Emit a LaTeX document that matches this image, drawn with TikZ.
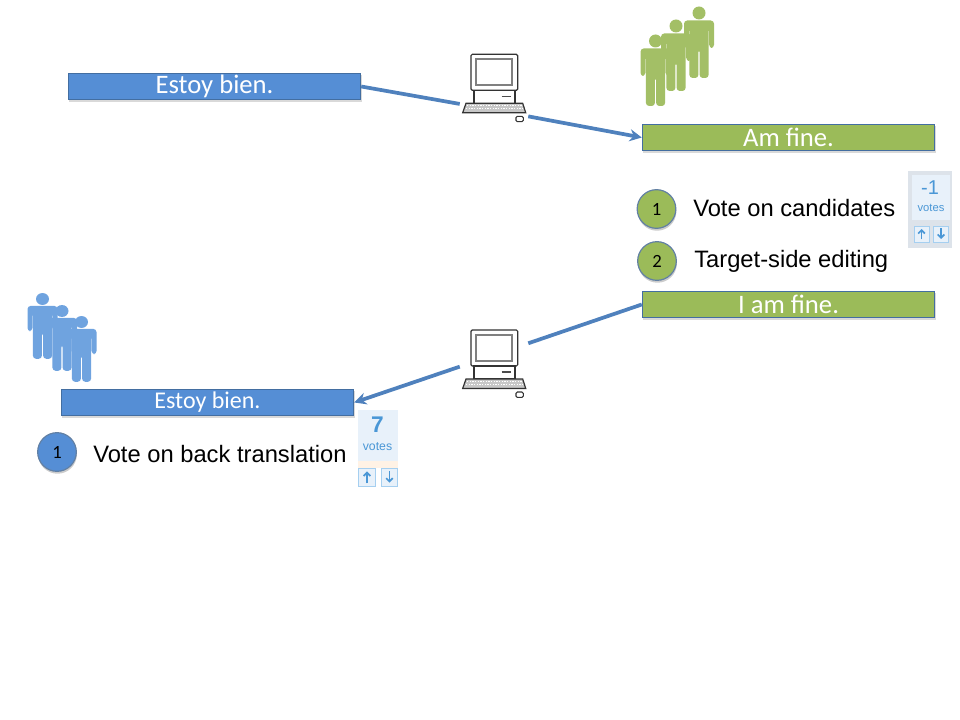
\documentclass[tikz,border=0pt]{standalone}
\usepackage{fontspec}
\setmainfont{Liberation Sans}
\newfontfamily\boxfont{Carlito}
\usetikzlibrary{shadows,arrows.meta}
\definecolor{barblue}{HTML}{558ED5}
\definecolor{bargreen}{HTML}{9BBB59}
\definecolor{edgeblue}{HTML}{4F81BD}
\definecolor{peopleblue}{HTML}{6FA3DF}
\definecolor{peoplegreen}{HTML}{A3BF66}
\definecolor{votegrey}{HTML}{DDE3EA}
\definecolor{votepale}{HTML}{E8F1FA}
\definecolor{votetext}{HTML}{4A97D6}
\definecolor{votebtn}{HTML}{A5CFF0}
\tikzset{
	bar/.style={draw=edgeblue!85!black, line width=0.6pt, minimum width=219.5pt, minimum height=20pt, inner sep=0pt, text=white, font=\boxfont\fontsize{20}{20}\selectfont, drop shadow={shadow xshift=0.6pt, shadow yshift=-1.5pt, opacity=0.3}},
	badge/.style={circle, draw=edgeblue!60!gray, line width=0.9pt, minimum size=29pt, inner sep=0pt, font=\boxfont\fontsize{14}{14}\selectfont, drop shadow={shadow xshift=0.4pt, shadow yshift=-1.8pt, opacity=0.4}},
	caption/.style={anchor=west, inner sep=0pt, font=\fontsize{17.8}{18}\selectfont},
	link/.style={edgeblue, line width=2.8pt},
	gap/.style={inner sep=0pt, minimum width=51pt, minimum height=30pt},
	votebox/.style={inner sep=0pt, text=votetext},
	person/.pic={
		\fill (0,0) circle (6.5);
		\fill[rounded corners=2.4] (-15,7.5) -- (15,7.5) -- (15,35) -- (10.2,35) -- (10.2,15) -- (9.6,15) -- (9.6,65) -- (0.6,65) -- (0.6,36) -- (-0.6,36) -- (-0.6,65) -- (-9.6,65) -- (-9.6,15) -- (-10.2,15) -- (-10.2,35) -- (-15,35) -- cycle;
	},
	computer/.pic={
		\draw[black!80, line width=0.9pt, fill=white, rounded corners=1] (0,0) rectangle (46.7,36);
		\draw[gray, line width=1.4pt] (5,5) rectangle (41,31);
		\draw[black!80, line width=0.9pt, fill=white] (3,36) rectangle (44,49);
		\draw[black!70, line width=0.9pt] (30.7,42) -- (39.7,42);
		\draw[black!80, line width=0.9pt, fill=black!22] (-5,49) -- (51.7,49) -- (54.7,58.4) -- (-8.3,58.4) -- cycle;
		\draw[white, line width=0.5pt, dash pattern=on 1pt off 1pt] (-4,51.5) -- (52,51.5) (-5,54) -- (53,54);
		\draw[black!80, line width=0.8pt, fill=white, rounded corners=1] (45,67.4) rectangle (52.3,62);
	},
	upbtn/.pic={
		\draw[votebtn, line width=0.7pt, fill=votepale] (0,0) rectangle (15,16);
		\draw[votetext, line width=1.3pt, -{Straight Barb[length=2.5pt]}] (7.5,13.5) -- (7.5,3);
	},
	downbtn/.pic={
		\draw[votebtn, line width=0.7pt, fill=votepale] (0,0) rectangle (15,16);
		\draw[votetext, line width=1.3pt, -{Straight Barb[length=2.5pt]}] (7.5,2.5) -- (7.5,13);
	}
}
\begin{document}
\begin{tikzpicture}[x=0.75pt,y=-0.75pt]
	\useasboundingbox (0,0) rectangle (960,720);

	\node[bar, fill=barblue] (srcTop) at (214.5,86.5) {Estoy bien.};
	\node[bar, fill=bargreen] (amFine) at (788.5,137.5) {Am fine.};
	\node[bar, fill=bargreen] (iamFine) at (788.5,304.5) {I am fine.};
	\node[bar, fill=barblue, font=\boxfont\fontsize{18}{18}\selectfont] (srcLow) at (207.5,402.5) {Estoy bien.};

	\node[gap] (gapTop) at (494,110) {};
	\node[gap] (gapLow) at (494,355) {};
	\draw[link] (srcTop.east) -- (gapTop);
	\draw[link, -{Stealth[length=9pt,width=9pt]}] (gapTop) -- (amFine.west);
	\draw[link] (iamFine.west) -- (gapLow);
	\draw[link, -{Stealth[length=9pt,width=9pt]}] (gapLow) -- (srcLow.east);

	\pic at (471,54.3) {computer};
	\pic at (471,330) {computer};

	\pic[peoplegreen] at (699,13) {person};
	\pic[peoplegreen] at (676,26) {person};
	\pic[peoplegreen] at (655.5,41) {person};
	\pic[peopleblue, yscale=0.92] at (42.5,299) {person};
	\pic[peopleblue, yscale=0.92] at (62,311) {person};
	\pic[peopleblue, yscale=0.92] at (81.5,322) {person};

	\node[badge, fill=bargreen] (badgeA) at (656.5,209) {1};
	\node[badge, fill=bargreen] (badgeB) at (657,261) {2};
	\node[badge, fill=barblue] (badgeC) at (57,452) {1};
	\node[caption] (voteCand) at (693,208.5) {Vote on candidates};
	\node[caption] (targetEdit) at (694,261.5) {Target-side editing};
	\node[caption] (voteBack) at (93,454.5) {Vote on back translation};

	\fill[votegrey] (908,171) rectangle (952,248);
	\fill[votepale] (912,175) rectangle (950,220);
	\node[votebox, font=\fontsize{15}{15}\selectfont] (minusOne) at (930,188) {-1};
	\node[votebox, font=\fontsize{8.4}{9}\selectfont] (votesA) at (931,208) {votes};
	\pic at (914,226) {upbtn};
	\pic at (933.5,226) {downbtn};

	\fill[votepale] (358,410) rectangle (398,462);
	\fill[orange!10] (358,461) rectangle (398,468);
	\node[votebox, font=\bfseries\fontsize{17}{17}\selectfont] (seven) at (377.5,425) {7};
	\node[votebox, font=\fontsize{9.2}{10}\selectfont] (votesB) at (377.5,447) {votes};
	\pic[scale=1.13] at (358.5,468) {upbtn};
	\pic[scale=1.13] at (381,468) {downbtn};
\end{tikzpicture}
\end{document}
